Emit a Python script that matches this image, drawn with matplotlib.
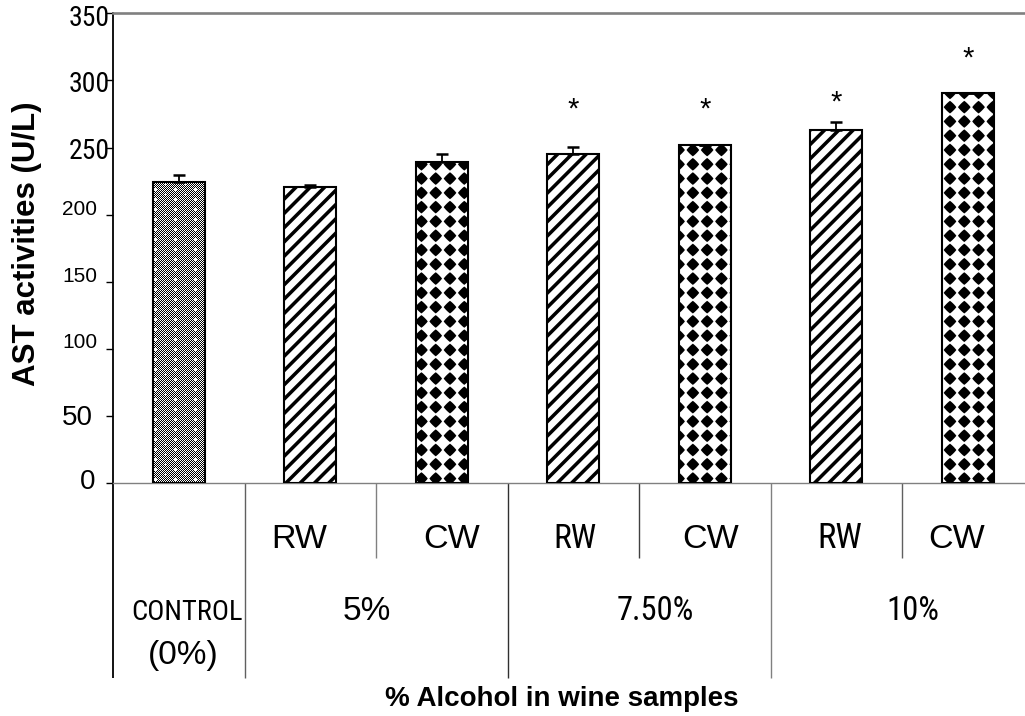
import numpy as np
import matplotlib
matplotlib.use("Agg")
import matplotlib.pyplot as plt
import matplotlib.hatch as mhatch
import matplotlib.transforms as mtransforms
from matplotlib.path import Path
from matplotlib import font_manager as fm

# ---------------- data ----------------
ast_values = [224.0, 220.5, 239.5, 245.3, 251.5, 263.0, 290.3]
ast_errors = [5.5, 1.5, 5.5, 5.2, 0.0, 5.8, 0.0]
wine_types = ["RW", "CW", "RW", "CW", "RW", "CW"]
group_labels = ["5%", "7.50%", "10%"]
control_label = ["CONTROL", "(0%)"]
star_bars = [3, 4, 5, 6]
star_heights = [285.5, 285.5, 290.5, 323.5]
y_ticks = [0, 50, 100, 150, 200, 250, 300, 350]
y_tick_labels = ["0", "50", "100", "150", "200", "250", "300", "350"]
y_label = "AST activities (U/L)"
x_label = "% Alcohol in wine samples"

# ---------------- custom hatch patterns ----------------
plt.rcParams['hatch.linewidth'] = 0.0


class _PolyHatch(mhatch.HatchPatternBase):
    key = ''

    def __init__(self, hatch, density):
        self.polys = self.build() if (hatch and self.key in hatch) else []
        self.num_vertices = sum(len(p) + 1 for p in self.polys)

    def build(self):
        return []

    def set_vertices_and_codes(self, vertices, codes):
        i = 0
        for p in self.polys:
            k = len(p)
            vertices[i:i + k] = p
            vertices[i + k] = p[0]
            codes[i] = Path.MOVETO
            codes[i + 1:i + k] = Path.LINETO
            codes[i + k] = Path.CLOSEPOLY
            i += k + 1


class Stripes(_PolyHatch):
    key = '/'

    def build(self):
        polys = []
        w = 0.05
        for k in range(-8, 9):
            c = k / 7.0
            polys.append([(-0.1, -0.1 + c), (1.1, 1.1 + c),
                          (1.1, 1.1 + c + w), (-0.1, -0.1 + c + w)])
        return polys


class Diamonds(_PolyHatch):
    key = '*'

    def build(self):
        polys = []
        r = 0.063
        p = 1.12
        t = np.linspace(0, 2 * np.pi, 32, endpoint=False)
        ux = np.sign(np.cos(t)) * np.abs(np.cos(t)) ** (2.0 / p)
        uy = np.sign(np.sin(t)) * np.abs(np.sin(t)) ** (2.0 / p)
        for a in range(7):
            for b in range(7):
                cx, cy = (a + 0.5) / 7.0, (b + 0.5) / 7.0
                polys.append(list(zip(cx + r * ux, cy + r * uy)))
        return polys


class Checker(_PolyHatch):
    key = 'x'

    def build(self):
        polys = []
        s = 0.01
        for i in range(100):
            for j in range(100):
                if (i + j) % 2:
                    continue
                di = abs(i % 10 - 5)
                dj = abs(((j + 5 * ((i // 10) % 2)) % 10) - 5)
                if di + dj <= 1:
                    continue
                x0, y0 = i * s, j * s
                polys.append([(x0, y0), (x0 + s, y0), (x0 + s, y0 + s), (x0, y0 + s)])
        return polys


mhatch._hatch_types = [Stripes, Diamonds, Checker]
bar_hatches = ['x', '/', '*', '/', '*', '/', '*']

# ---------------- fonts ----------------
names = {f.name for f in fm.fontManager.ttflist}
REG = 'Liberation Sans' if 'Liberation Sans' in names else 'DejaVu Sans'
plt.rcParams['font.family'] = [REG, 'DejaVu Sans']

_cond_path = None
_pref = ['Liberation Sans Narrow', 'Arimo', 'Roboto Condensed', 'Roboto',
         'Noto Sans', 'Open Sans', 'DejaVu Sans', 'Lato', 'Inter']
_cands = [f for f in fm.fontManager.ttflist
          if str(f.stretch) in ('condensed', 'semi-condensed', 'extra-condensed',
                                'ultra-condensed')
          and f.style == 'normal'
          and (f.weight in (400, 'normal', 'regular', 'book'))]
if 'Liberation Sans Narrow' in names:
    COND_FAMILY = 'Liberation Sans Narrow'
else:
    COND_FAMILY = None
    _cands.sort(key=lambda f: (_pref.index(f.name) if f.name in _pref else 99,
                               ['semi-condensed', 'condensed', 'extra-condensed',
                                'ultra-condensed'].index(str(f.stretch))))
    for f in _cands:
        if 'mono' in f.name.lower() or 'serif' in f.name.lower():
            continue
        _cond_path = f.fname
        break


def fnt(kind, size):
    if kind == 'c':
        if COND_FAMILY:
            return dict(family=[COND_FAMILY, REG], fontsize=size)
        if _cond_path:
            return dict(fontproperties=fm.FontProperties(fname=_cond_path, size=size))
        return dict(family=[REG], fontsize=size * 0.85)
    return dict(family=[REG], fontsize=size)


PX = 100.0 / 72.0

# ---------------- figure ----------------
fig = plt.figure(figsize=(10.25, 7.16), dpi=100)
ax_left = 113 / 1025
ax_bottom = (716 - 483) / 716
ax_height = (483 - 13.3) / 716
ax_width = (1025 - 113) / 1025
ax = fig.add_axes([ax_left, ax_bottom, ax_width, ax_height])

unit_px = 131.5
x = np.arange(len(ast_values))
ax.set_xlim(-0.5, -0.5 + 912 / unit_px)
ax.set_ylim(0, 350)

bars = ax.bar(x, ast_values, width=0.395, color='white', edgecolor='black',
              linewidth=1.5, zorder=3)
for b, h in zip(bars, bar_hatches):
    b.set_hatch(h)

ax.errorbar(x, ast_values, yerr=[np.zeros(len(ast_errors)), ast_errors],
            fmt='none', ecolor='black', elinewidth=1.3, capsize=4,
            capthick=1.8, zorder=4)

# significance stars
star_fs = 21
for i, h in zip(star_bars, star_heights):
    ax.annotate('*', xy=(i, h), xytext=(0, -0.59 * star_fs * PX),
                textcoords='offset pixels', ha='center', va='baseline',
                **fnt('n', star_fs))

# spines
ax.spines['right'].set_visible(False)
ax.spines['top'].set_color('#808080')
ax.spines['top'].set_linewidth(1.9)
ax.spines['bottom'].set_color('#808080')
ax.spines['bottom'].set_linewidth(1.0)
ax.spines['left'].set_color('black')
ax.spines['left'].set_linewidth(1.3)

ax.set_xticks([])
ax.set_yticks(y_ticks)
ax.tick_params(axis='y', direction='out', length=5, width=1.0, color='black',
               labelleft=False)

# y tick labels (mixed styles as in the original)
tick_kind = ['n', 'n', 'n', 'n', 'n', 'c', 'c', 'c']
tick_size = [20, 20, 15, 15, 15, 20, 20, 20]
tick_dx = [-18, -20, -16, -16, -16, -3, -3, -3]
tick_dy = [4, 1, 8, 7.5, 7, -2, -2, -3]
for v, lbl, k, s, dx, dy in zip(y_ticks, y_tick_labels, tick_kind, tick_size,
                                tick_dx, tick_dy):
    ax.annotate(lbl, xy=(0, v), xycoords=('axes fraction', 'data'),
                xytext=(dx, dy - 0.358 * s * PX), textcoords='offset pixels',
                ha='right', va='baseline', annotation_clip=False, **fnt(k, s))

# table below the axis
axh = 483 - 13.3
trans = mtransforms.blended_transform_factory(ax.transData, ax.transAxes)
boundaries = np.arange(-0.5, len(ast_values) - 1, 1.0)
is_long = [True, True, False, True, False, True, False]
line_col = ['black', '#606060', '#808080', '#303030', '#404040', '#808080', '#606060']
for xb, lg, lc in zip(boundaries, is_long, line_col):
    yb = -(678 - 483) / axh if lg else -(558 - 483) / axh
    ax.plot([xb, xb], [0, yb], transform=trans, color=lc,
            lw=1.3 if xb < 0 else 1.0, clip_on=False, solid_capstyle='butt')

row1_y = -(548 - 483) / axh
wt_kind = ['n', 'n', 'c', 'n', 'c', 'n']
wt_size = [24.5, 24.5, 24, 24.5, 25, 24.5]
wt_dx = [-11, 10, 2, 6, 4, -11]
for k, (wt, kd, sz, dx) in enumerate(zip(wine_types, wt_kind, wt_size, wt_dx)):
    ax.annotate(wt, xy=(k + 1, row1_y), xycoords=trans, xytext=(dx, 0),
                textcoords='offset pixels', ha='center', va='baseline',
                annotation_clip=False, **fnt(kd, sz))

row2_y = -(620 - 483) / axh
row3_y = -(664 - 483) / axh
ax.annotate(control_label[0], xy=(0, row2_y), xycoords=trans, xytext=(8, 0),
            textcoords='offset pixels', ha='center', va='baseline',
            annotation_clip=False, **fnt('c', 20.5))
ax.annotate(control_label[1], xy=(0, row3_y), xycoords=trans, xytext=(4, 0),
            textcoords='offset pixels', ha='center', va='baseline',
            annotation_clip=False, **fnt('n', 24))

grp_kind = ['n', 'c', 'c']
grp_size = [24, 23.5, 23.5]
grp_dx = [-9, 16, 11]
for g, (gl, kd, sz, dx) in enumerate(zip(group_labels, grp_kind, grp_size, grp_dx)):
    ax.annotate(gl, xy=(1.5 + 2 * g, row2_y), xycoords=trans, xytext=(dx, 0),
                textcoords='offset pixels', ha='center', va='baseline',
                annotation_clip=False, **fnt(kd, sz))

# axis titles
fig.text(562 / 1025, 1 - 706 / 716, x_label, ha='center', va='baseline',
         fontweight='bold', **fnt('n', 20))
fig.text(27.5 / 1025, 1 - 244 / 716, y_label, ha='center', va='center',
         rotation=90, fontweight='bold', **fnt('n', 22.5))

fig.savefig('out.png', dpi=100)
